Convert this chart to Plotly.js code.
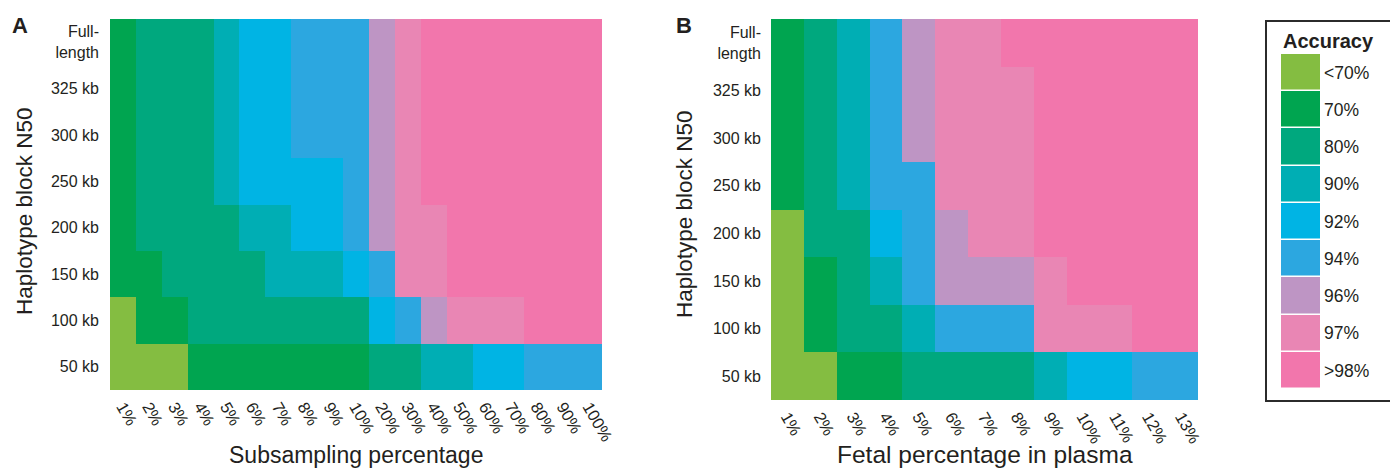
<!DOCTYPE html>
<html>
<head>
<meta charset="utf-8">
<script src="https://cdn.plot.ly/plotly-3.0.1.min.js"></script>
<style>html,body{margin:0;padding:0;background:#fff;}#chart{width:1390px;height:471px;}</style>
</head>
<body>
<div id="chart"></div>
<script>
// ---- Data ----
const accuracyLevels = ['<70%', '70%', '80%', '90%', '92%', '94%', '96%', '97%', '>98%'];
const levelColors = ['#84BD41', '#00A550', '#00A87E', '#00AEB4', '#00B4E4', '#2CA7E0', '#BE95C4', '#E986B4', '#F276AC'];

const n50Labels = ['Full-<br>length', '325 kb', '300 kb', '250 kb', '200 kb', '150 kb', '100 kb', '50 kb'];

const subsamplingLabels = ['1%', '2%', '3%', '4%', '5%', '6%', '7%', '8%', '9%', '10%',
  '20%', '30%', '40%', '50%', '60%', '70%', '80%', '90%', '100%'];
const fetalLabels = ['1%', '2%', '3%', '4%', '5%', '6%', '7%', '8%', '9%', '10%', '11%', '12%', '13%'];

// accuracy level index (into accuracyLevels), rows top (Full-length) to bottom (50 kb)
const panelA_full = [1, 2, 2, 2, 3, 4, 4, 5, 5, 5, 6, 7, 8, 8, 8, 8, 8, 8, 8];
const panelA_325 = [1, 2, 2, 2, 3, 4, 4, 5, 5, 5, 6, 7, 8, 8, 8, 8, 8, 8, 8];
const panelA_300 = [1, 2, 2, 2, 3, 4, 4, 5, 5, 5, 6, 7, 8, 8, 8, 8, 8, 8, 8];
const panelA_250 = [1, 2, 2, 2, 3, 4, 4, 4, 4, 5, 6, 7, 8, 8, 8, 8, 8, 8, 8];
const panelA_200 = [1, 2, 2, 2, 2, 3, 3, 4, 4, 5, 6, 7, 7, 8, 8, 8, 8, 8, 8];
const panelA_150 = [1, 1, 2, 2, 2, 2, 3, 3, 3, 4, 5, 7, 7, 8, 8, 8, 8, 8, 8];
const panelA_100 = [0, 1, 1, 2, 2, 2, 2, 2, 2, 2, 4, 5, 6, 7, 7, 7, 8, 8, 8];
const panelA_50  = [0, 0, 0, 1, 1, 1, 1, 1, 1, 1, 2, 2, 3, 3, 4, 4, 5, 5, 5];

const panelB_full = [1, 2, 3, 5, 6, 7, 7, 8, 8, 8, 8, 8, 8];
const panelB_325 = [1, 2, 3, 5, 6, 7, 7, 7, 8, 8, 8, 8, 8];
const panelB_300 = [1, 2, 3, 5, 6, 7, 7, 7, 8, 8, 8, 8, 8];
const panelB_250 = [1, 2, 3, 5, 5, 7, 7, 7, 8, 8, 8, 8, 8];
const panelB_200 = [0, 2, 2, 4, 5, 6, 7, 7, 8, 8, 8, 8, 8];
const panelB_150 = [0, 1, 2, 3, 5, 6, 6, 6, 7, 8, 8, 8, 8];
const panelB_100 = [0, 1, 2, 2, 3, 5, 5, 5, 7, 7, 7, 8, 8];
const panelB_50  = [0, 0, 1, 1, 2, 2, 2, 2, 3, 4, 4, 5, 5];

// ---- Build ----
const W = 1390, H = 471;
const px = v => v / W;
const py = v => 1 - v / H;

const nLev = accuracyLevels.length;
const colorscale = [];
levelColors.forEach((c, i) => {
  colorscale.push([i / nLev, c]);
  colorscale.push([(i + 1) / nLev, c]);
});

const FONT = 'Liberation Sans, Arial, Helvetica, sans-serif';
const TXT = '#231f20';

const common = {
  type: 'heatmap', colorscale: colorscale, zmin: -0.5, zmax: nLev - 0.5,
  showscale: false, hoverongaps: false
};

const traceA = Object.assign({}, common, {
  x: subsamplingLabels, y: n50Labels,
  z: [panelA_full, panelA_325, panelA_300, panelA_250, panelA_200, panelA_150, panelA_100, panelA_50],
  xaxis: 'x', yaxis: 'y'
});
const traceB = Object.assign({}, common, {
  x: fetalLabels, y: n50Labels,
  z: [panelB_full, panelB_325, panelB_300, panelB_250, panelB_200, panelB_150, panelB_100, panelB_50],
  xaxis: 'x2', yaxis: 'y2'
});
const traceLegend = Object.assign({}, common, {
  x: ['Accuracy'], y: accuracyLevels,
  z: accuracyLevels.map((_, i) => [i]),
  ygap: 1.5,
  xaxis: 'x3', yaxis: 'y3'
});

const xBase = {
  type: 'category', showgrid: false, zeroline: false, showline: false, ticks: '',
  tickangle: 60, tickfont: {family: FONT, size: 16.5, color: TXT}, ticklabelstandoff: 3
};
const yBase = {
  type: 'category', showgrid: false, zeroline: false, showline: false, ticks: '',
  autorange: 'reversed', tickfont: {family: FONT, size: 16, color: TXT}, ticklabelstandoff: 10
};

const layout = {
  width: W, height: H, autosize: false,
  margin: {l: 0, r: 0, t: 0, b: 0, pad: 0},
  paper_bgcolor: '#fff', plot_bgcolor: '#fff',
  font: {family: FONT, color: TXT},
  showlegend: false,
  xaxis: Object.assign({}, xBase, {domain: [px(110), px(602)], anchor: 'y'}),
  yaxis: Object.assign({}, yBase, {domain: [py(390), py(19)], anchor: 'x'}),
  xaxis2: Object.assign({}, xBase, {domain: [px(771), px(1198)], anchor: 'y2'}),
  yaxis2: Object.assign({}, yBase, {domain: [py(400), py(19)], anchor: 'x2', ticklabelstandoff: 9}),
  xaxis3: {domain: [px(1281), px(1320)], anchor: 'y3', showticklabels: false, showgrid: false,
           zeroline: false, showline: false, ticks: ''},
  yaxis3: Object.assign({}, yBase, {domain: [py(389), py(54)], anchor: 'x3', side: 'right',
           ticklabelstandoff: 3, tickfont: {family: FONT, size: 17.5, color: TXT}}),
  shapes: [
    {type: 'rect', xref: 'paper', yref: 'paper', x0: px(1266), x1: px(1400), y0: py(401), y1: py(21),
     line: {color: '#2b2b2b', width: 2}, fillcolor: 'rgba(0,0,0,0)', layer: 'below'}
  ],
  annotations: [
    {text: '<b>A</b>', x: px(10), y: py(26), xref: 'paper', yref: 'paper', xanchor: 'left', yanchor: 'middle',
     showarrow: false, font: {family: FONT, size: 22, color: TXT}},
    {text: '<b>B</b>', x: px(674), y: py(26), xref: 'paper', yref: 'paper', xanchor: 'left', yanchor: 'middle',
     showarrow: false, font: {family: FONT, size: 22, color: TXT}},
    {text: '<b>Accuracy</b>', x: px(1281), y: py(41), xref: 'paper', yref: 'paper', xanchor: 'left', yanchor: 'middle',
     showarrow: false, font: {family: FONT, size: 20, color: TXT}},
    {text: 'Haplotype block N50', x: px(24), y: py(211), xref: 'paper', yref: 'paper', xanchor: 'center', yanchor: 'middle',
     textangle: -90, showarrow: false, font: {family: FONT, size: 22.5, color: TXT}},
    {text: 'Haplotype block N50', x: px(684), y: py(214), xref: 'paper', yref: 'paper', xanchor: 'center', yanchor: 'middle',
     textangle: -90, showarrow: false, font: {family: FONT, size: 22.5, color: TXT}},
    {text: 'Subsampling percentage', x: px(356), y: py(470), xref: 'paper', yref: 'paper', xanchor: 'center', yanchor: 'bottom',
     showarrow: false, font: {family: FONT, size: 23, color: TXT}},
    {text: 'Fetal percentage in plasma', x: px(985), y: py(470), xref: 'paper', yref: 'paper', xanchor: 'center', yanchor: 'bottom',
     showarrow: false, font: {family: FONT, size: 24.5, color: TXT}}
  ]
};

Plotly.newPlot('chart', [traceA, traceB, traceLegend], layout, {displayModeBar: false, staticPlot: true});
</script>
</body>
</html>
